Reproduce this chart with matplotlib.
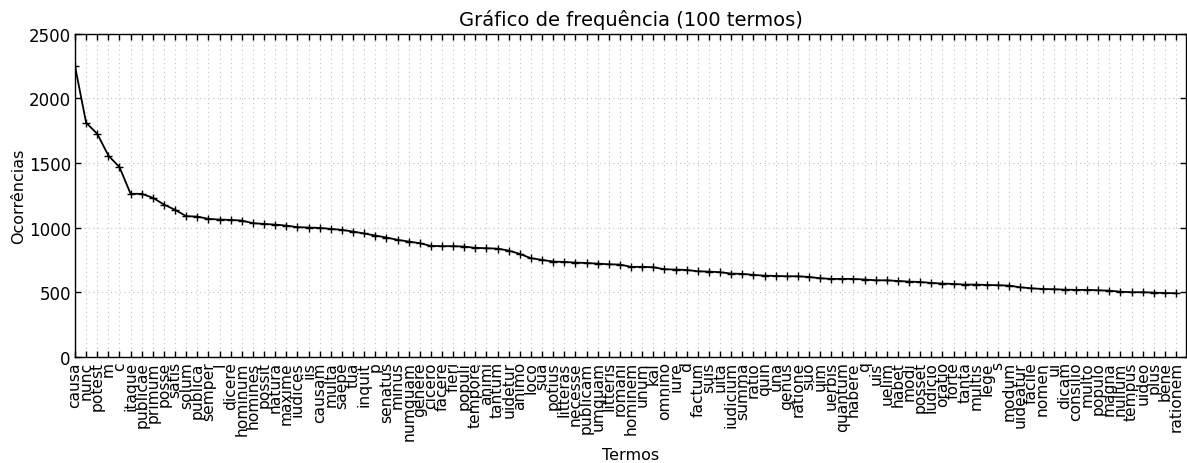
import matplotlib
matplotlib.use("Agg")
import matplotlib.pyplot as plt

terms = ["causa", "nunc", "potest", "m", "c", "itaque", "publicae", "primum", "posse", "satis",
         "solum", "publica", "semper", "l", "dicere", "hominum", "homines", "possit", "natura", "maxime",
         "iudices", "iis", "causam", "multa", "saepe", "tua", "inquit", "p", "senatus", "minus",
         "numquam", "genere", "cicero", "facere", "fieri", "populi", "tempore", "animi", "tantum", "uidetur",
         "animo", "loco", "sua", "potius", "litteras", "necesse", "publicam", "umquam", "litteris", "romani",
         "hominem", "unum", "kal", "omnino", "iure", "d", "factum", "suis", "uita", "iudicium",
         "summa", "ratio", "quin", "una", "genus", "ratione", "suo", "uim", "uerbis", "quantum",
         "habere", "q", "uis", "uelim", "habet", "modi", "posset", "iudicio", "oratio", "forte",
         "tanta", "multis", "lege", "s", "modum", "uideatur", "facile", "nomen", "ui", "dicam",
         "consilio", "multo", "populo", "magna", "nullum", "tempus", "uideo", "plus", "bene", "rationem"]

counts = [2250, 1811, 1726, 1558, 1468, 1262, 1262, 1231, 1179, 1138,
          1089, 1086, 1068, 1063, 1060, 1055, 1035, 1029, 1024, 1016,
          1004, 1001, 998, 991, 983, 970, 955, 939, 924, 906,
          893, 880, 859, 857, 857, 854, 844, 841, 838, 823,
          797, 764, 751, 738, 735, 730, 727, 722, 717, 715,
          697, 697, 694, 679, 676, 673, 663, 660, 656, 645,
          643, 635, 629, 627, 624, 624, 619, 609, 604, 604,
          604, 599, 593, 593, 588, 583, 580, 573, 568, 565,
          560, 560, 557, 555, 552, 539, 531, 526, 524, 521,
          519, 519, 516, 513, 505, 501, 501, 498, 495, 493]

yticks = [0, 500, 1000, 1500, 2000, 2500]

fig = plt.figure(figsize=(11.87, 4.64), dpi=100)
ax = fig.add_axes([75/1187, 1 - 358/464, (1186 - 75)/1187, (358 - 34.7)/464])

x = list(range(len(counts)))
ax.plot(x, counts, color="black", lw=1.3, marker="+", ms=6, mew=1.0)

ax.set_xlim(0, 99.9)
ax.set_ylim(0, 2500)
ax.set_yticks(yticks)
ax.set_xticks(x)
ax.set_xticklabels(terms, rotation=90)
ax.tick_params(axis="both", direction="in", top=True, right=True, length=4, width=1, pad=3)
ax.tick_params(axis="y", labelsize=12)
ax.tick_params(axis="x", labelsize=11.2)
ax.grid(True, color="silver", linestyle=(0, (1, 3)), linewidth=0.8)
for s in ax.spines.values():
    s.set_linewidth(1)

ax.set_title("Gráfico de frequência (100 termos)", fontsize=14)
ax.set_xlabel("Termos", fontsize=11.5, labelpad=5)
ax.set_ylabel("Ocorrências", fontsize=11.5, labelpad=2)

fig.savefig("out.png", dpi=100)
